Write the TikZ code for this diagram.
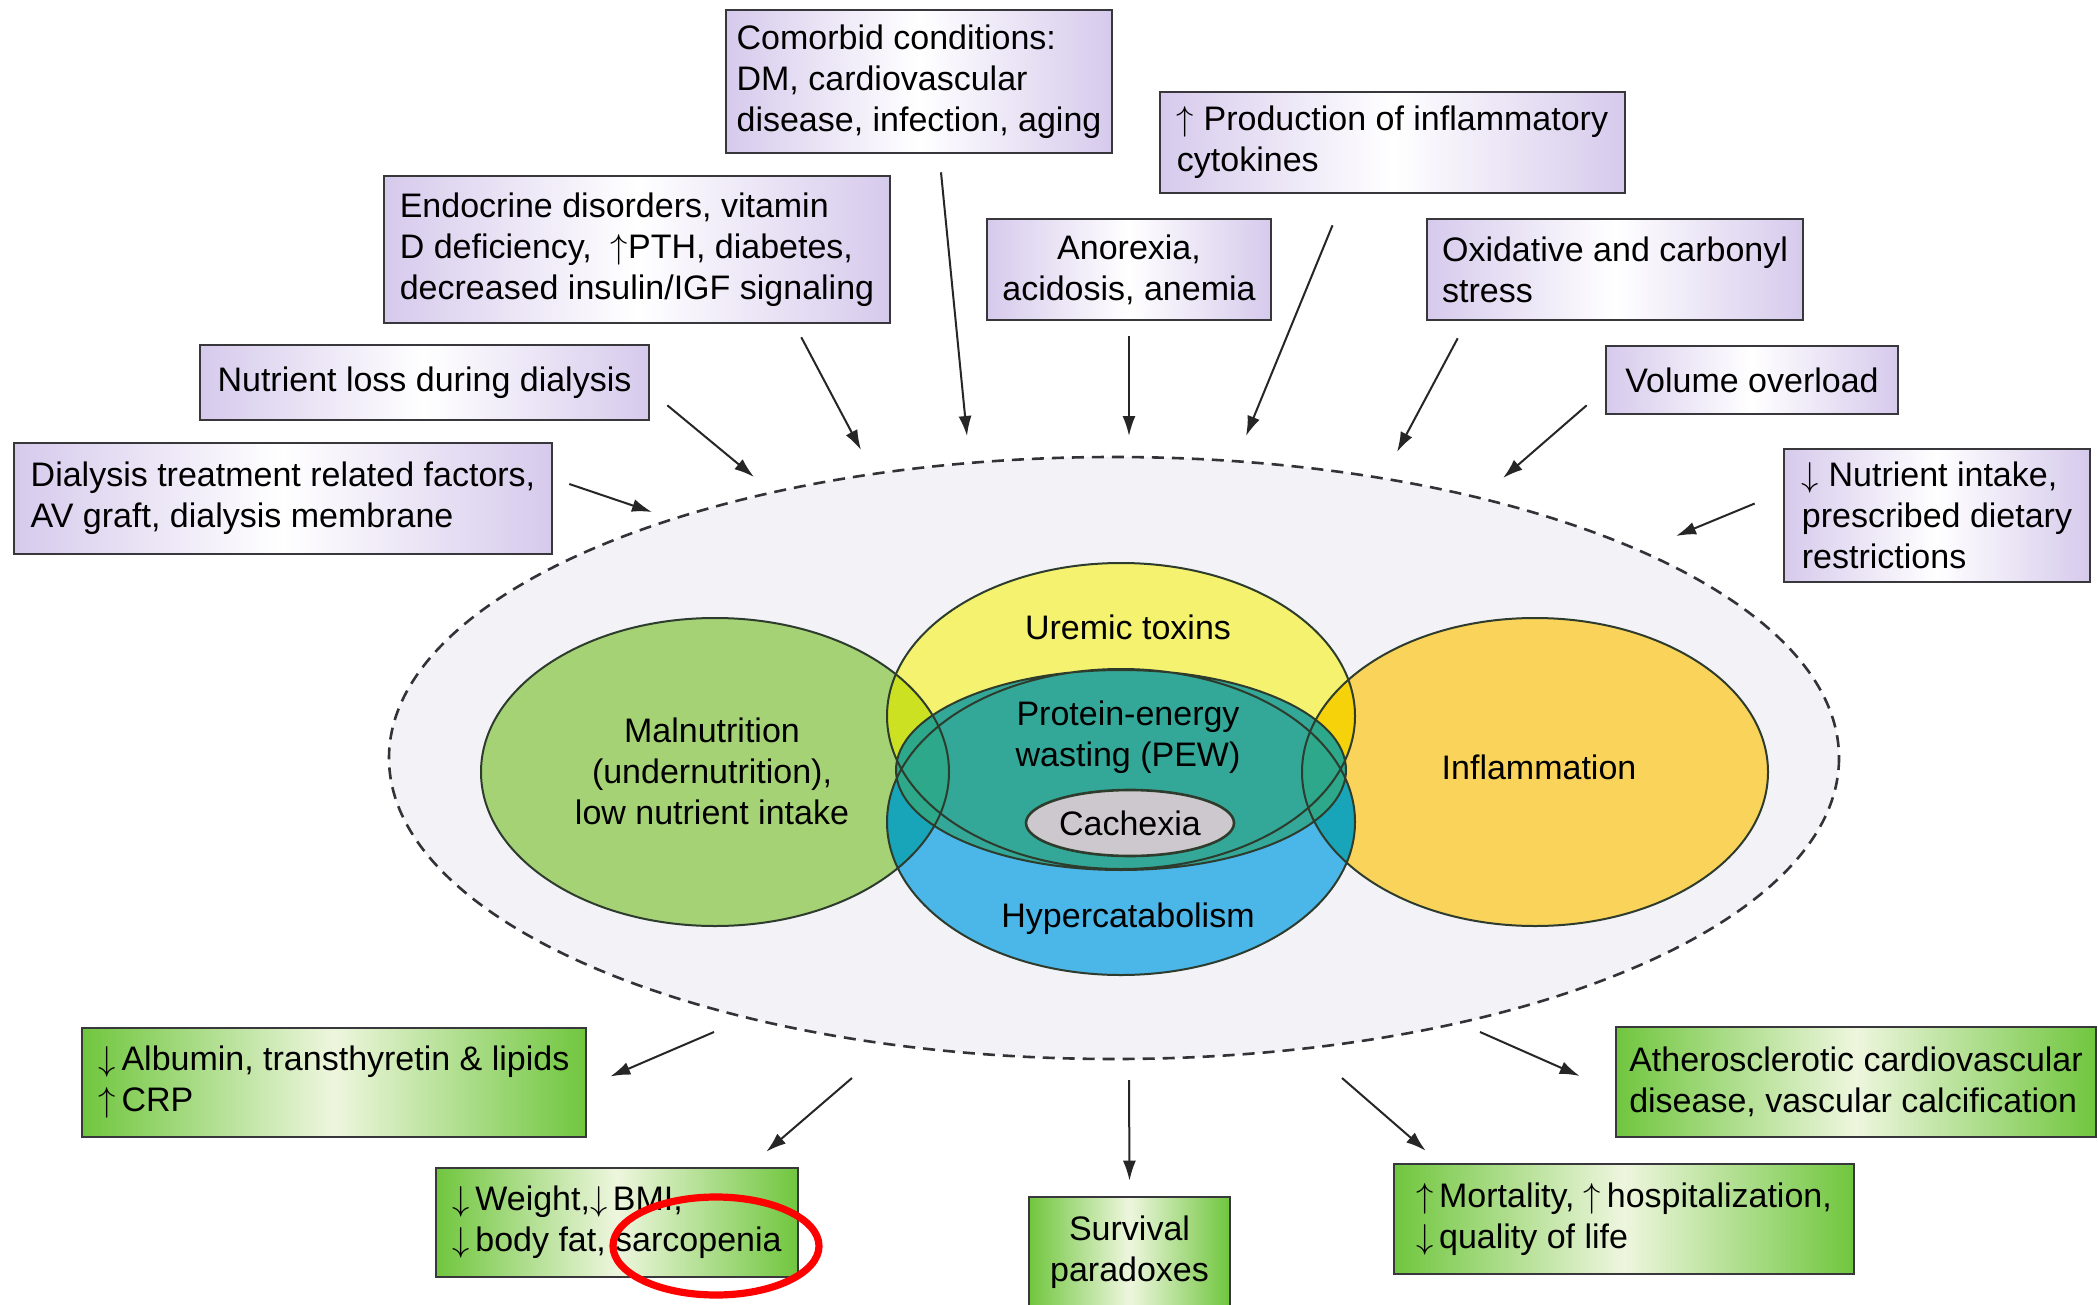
\documentclass[tikz,border=0pt]{standalone}
\usepackage{fontspec}
\setmainfont{Liberation Sans}
\usetikzlibrary{arrows.meta,shapes.geometric}

\definecolor{box-line}{RGB}{55,55,60}
\definecolor{lavender-edge}{RGB}{214,202,236}
\definecolor{leaf-edge}{RGB}{112,198,62}
\definecolor{leaf-mid}{RGB}{238,246,222}
\definecolor{rim-fill}{RGB}{242,242,247}
\definecolor{rim-grey}{RGB}{50,50,55}
\definecolor{venn-edge}{RGB}{45,60,45}
\definecolor{mal-col}{RGB}{166,210,118}
\definecolor{urem-col}{RGB}{244,242,110}
\definecolor{infl-col}{RGB}{250,212,90}
\definecolor{hyper-col}{RGB}{75,182,232}
\definecolor{pew-col}{RGB}{52,168,152}
\definecolor{pew-deep}{RGB}{46,168,138}
\definecolor{lime-col}{RGB}{205,225,35}
\definecolor{gold-col}{RGB}{245,210,10}
\definecolor{sea-col}{RGB}{25,165,185}
\definecolor{cachexia-col}{RGB}{205,200,205}

\newcommand{\venntext}{\fontsize{17}{20.5}\selectfont}
\newcommand{\incr}{$\uparrow$}
\newcommand{\decr}{$\downarrow$}
\newcommand{\malset}{(715,772) ellipse [x radius=234, y radius=154]}
\newcommand{\uremset}{(1121,716) ellipse [x radius=234, y radius=153]}
\newcommand{\hyperset}{(1121,822) ellipse [x radius=234, y radius=153]}
\newcommand{\inflset}{(1535,772) ellipse [x radius=233, y radius=154]}
\newcommand{\pewset}{(1121,770) ellipse [x radius=225, y radius=100]}

\tikzset{
    cause-box/.style = {draw=box-line, line width=1.3pt, rectangle, left color=lavender-edge, right color=lavender-edge, middle color=white, inner sep=0pt, align=left, font=\venntext},
    effect-box/.style = {draw=box-line, line width=1.3pt, rectangle, left color=leaf-edge, right color=leaf-edge, middle color=leaf-mid, inner sep=0pt, align=left, font=\venntext},
    feed-arrow/.style = {draw=black!85, line width=1pt, -{Latex[length=10pt,width=6.5pt]}},
    rim-line/.style = {draw=rim-grey, line width=1.3pt, dash pattern=on 6pt off 4pt},
    venn-line/.style = {draw=venn-edge, line width=1pt},
    venn-label/.style = {align=center, font=\venntext, inner sep=0pt},
    cachexia-set/.style = {ellipse, draw=venn-edge, line width=1.3pt, fill=cachexia-col, minimum width=104pt, minimum height=33pt, inner sep=0pt, font=\venntext},
    mark-ring/.style = {draw=red, line width=3.6pt},
}

\begin{document}
\begin{tikzpicture}[x=0.5pt, y=-0.5pt]
\path[use as bounding box, fill=white] (0,0) rectangle (2098,1305);

% dashed frame round the sets
\path[rim-line, fill=rim-fill] (1114,758) ellipse [x radius=725, y radius=301];

% the four sets and their overlaps
\fill[urem-col] \uremset;
\fill[hyper-col] \hyperset;
\fill[mal-col] \malset;
\fill[infl-col] \inflset;
\begin{scope}
  \clip \malset;
  \fill[lime-col] \uremset;
  \fill[sea-col] \hyperset;
\end{scope}
\begin{scope}
  \clip \inflset;
  \fill[gold-col] \uremset;
  \fill[sea-col] \hyperset;
\end{scope}
\fill[pew-col] \pewset;
\begin{scope}
  \clip \pewset;
  \fill[pew-deep] \malset;
  \fill[pew-deep] \inflset;
\end{scope}
\draw[venn-line] \malset \uremset \hyperset \inflset \pewset;

\node[venn-label] (urem-label) at (1128,627) {Uremic toxins};
\node[venn-label] (pew-label) at (1128,737) {Protein-energy\\wasting (PEW)};
\node[cachexia-set] (cachexia) at (1130,823) {Cachexia};
\node[venn-label] (hyper-label) at (1128,919) {Hypercatabolism};
\node[venn-label] (mal-label) at (712,771) {Malnutrition\\(undernutrition),\\low nutrient intake};
\node[venn-label] (infl-label) at (1539,767) {Inflammation};

% causes
\node[cause-box, minimum width=193pt, minimum height=71.5pt] (comorb) at (919,81.5) {Comorbid conditions:\\DM, cardiovascular\\disease, infection, aging};
\node[cause-box, minimum width=232.5pt, minimum height=50.5pt] (cyto) at (1392.5,142.5) {\incr\ Production of inflammatory\\cytokines};
\node[cause-box, minimum width=253pt, minimum height=73.5pt] (endo) at (637,249.5) {Endocrine disorders, vitamin\\D deficiency,\ \ \incr PTH, diabetes,\\decreased insulin/IGF signaling};
\node[cause-box, align=center, minimum width=142pt, minimum height=50.5pt] (anor) at (1129,269.5) {Anorexia,\\acidosis, anemia};
\node[cause-box, minimum width=188pt, minimum height=50.5pt] (oxid) at (1615,269.5) {Oxidative and carbonyl\\stress};
\node[cause-box, minimum width=224.5pt, minimum height=37.5pt] (loss) at (424.5,382.5) {Nutrient loss during dialysis};
\node[cause-box, minimum width=146pt, minimum height=34pt] (vol) at (1752,380) {Volume overload};
\node[cause-box, minimum width=269pt, minimum height=55.5pt] (dial) at (283,498.5) {Dialysis treatment related factors,\\AV graft, dialysis membrane};
\node[cause-box, minimum width=153pt, minimum height=66.5pt] (intake) at (1937,515.5) {\decr\ Nutrient intake,\\prescribed dietary\\restrictions};

% consequences
\node[effect-box, minimum width=252pt, minimum height=54.5pt] (alb) at (334,1082.5) {\decr\,Albumin, transthyretin \& lipids\\\incr\,CRP};
\node[effect-box, minimum width=181pt, minimum height=54.5pt] (weight) at (617,1222.5) {\decr\,Weight,\decr\,BMI,\\\decr\,body fat, sarcopenia};
\node[effect-box, align=center, minimum width=100.5pt, minimum height=55.5pt] (surv) at (1129.5,1252.5) {Survival\\paradoxes};
\node[effect-box, minimum width=230pt, minimum height=55pt] (mort) at (1624,1219) {\incr\,Mortality, \incr\,hospitalization,\\\decr\,quality of life};
\node[effect-box, minimum width=240pt, minimum height=55pt] (ather) at (1856,1082) {Atherosclerotic cardiovascular\\disease, vascular calcification};

% arrow ends on the dashed frame
\coordinate (rim-dial) at (652,512);
\coordinate (rim-loss) at (754,477);
\coordinate (rim-endo) at (861,450);
\coordinate (rim-comorb) at (967,436);
\coordinate (rim-anor) at (1129,436);
\coordinate (rim-cyto) at (1246,436);
\coordinate (rim-oxid) at (1397,452);
\coordinate (rim-vol) at (1503,478);
\coordinate (rim-intake) at (1676,536);
\coordinate (rim-alb) at (714,1032);
\coordinate (rim-weight) at (852,1078);
\coordinate (rim-surv) at (1129,1080);
\coordinate (rim-mort) at (1342,1078);
\coordinate (rim-ather) at (1480,1032);

\draw[feed-arrow] ([shift={(16,-14.5)}]dial.east) -- (rim-dial);
\draw[feed-arrow] ([shift={(17,-16)}]loss.south east) -- (rim-loss);
\draw[feed-arrow] ([shift={(-90,13)}]endo.south east) -- (rim-endo);
\draw[feed-arrow] ([shift={(22,18)}]comorb.south) -- (rim-comorb);
\draw[feed-arrow] ([shift={(0,15)}]anor.south) -- (rim-anor);
\draw[feed-arrow] ([shift={(-60,31)}]cyto.south) -- (rim-cyto);
\draw[feed-arrow] ([shift={(32,17)}]oxid.south west) -- (rim-oxid);
\draw[feed-arrow] ([shift={(-18,-10)}]vol.south west) -- (rim-vol);
\draw[feed-arrow] ([shift={(-28,-12)}]intake.west) -- (rim-intake);

\draw[feed-arrow] (rim-alb) -- ([shift={(23,-6)}]alb.east);
\draw[feed-arrow] (rim-weight) -- ([shift={(-33,-15)}]weight.north east);
\draw[feed-arrow] (rim-surv) -- ([shift={(0,-15)}]surv.north);
\draw[feed-arrow] (rim-mort) -- ([shift={(33,-12)}]mort.north west);
\draw[feed-arrow] (rim-ather) -- ([shift={(-35,-6)}]ather.west);

% red mark round the last word
\draw[mark-ring] (716,1246) ellipse [x radius=103, y radius=49];
\end{tikzpicture}
\end{document}
